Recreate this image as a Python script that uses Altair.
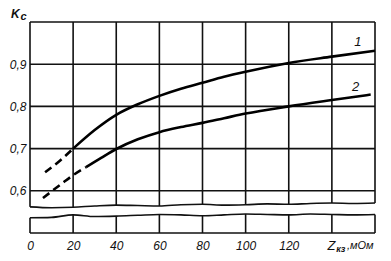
import altair as alt
import pandas as pd

# ---- data ----
x_tick_values = [0, 20, 40, 60, 80, 100, 120]
grid_x = [0, 20, 40, 60, 80, 100, 120, 140, 160]
grid_y = [0.5, 0.6, 0.7, 0.8, 0.9, 1.0]
y_tick_values = [0.6, 0.7, 0.8, 0.9]

c1_dash_x = [7, 14, 20]
c1_dash_y = [0.644, 0.672, 0.700]
c1_x = [20, 30, 40, 50, 60, 70, 80, 90, 100, 120, 140, 160]
c1_y = [0.700, 0.744, 0.780, 0.805, 0.825, 0.842, 0.856, 0.870, 0.882, 0.903, 0.918, 0.932]

c2_dash_x = [6, 15, 20, 26]
c2_dash_y = [0.583, 0.618, 0.637, 0.656]
c2_x = [26, 33, 40, 50, 60, 70, 80, 90, 100, 120, 140, 158]
c2_y = [0.656, 0.678, 0.699, 0.722, 0.739, 0.751, 0.761, 0.772, 0.783, 0.800, 0.815, 0.828]

# axis-break outline (wavy lines)
brk_x = [0, 10, 20, 30, 40, 50, 60, 70, 80, 90, 100, 110, 120, 130, 140, 150, 160]
brk_upper = [0.562, 0.560, 0.561, 0.564, 0.566, 0.565, 0.564, 0.567, 0.568,
             0.566, 0.567, 0.569, 0.568, 0.570, 0.571, 0.570, 0.571]
brk_lower = [0.536, 0.537, 0.543, 0.539, 0.540, 0.542, 0.544, 0.543, 0.541,
             0.543, 0.545, 0.544, 0.543, 0.545, 0.544, 0.543, 0.544]

# ---- tables ----
y_lo, y_hi = 0.5, 1.0
x_lo, x_hi = 0, 160
vgrid = pd.DataFrame({"x": grid_x, "y0": y_lo, "y1": y_hi})
hgrid = pd.DataFrame({"y": grid_y, "x0": x_lo, "x1": x_hi})

curves = pd.concat([
    pd.DataFrame({"x": c1_dash_x, "y": c1_dash_y, "s": "1d"}),
    pd.DataFrame({"x": c1_x, "y": c1_y, "s": "1"}),
    pd.DataFrame({"x": c2_dash_x, "y": c2_dash_y, "s": "2d"}),
    pd.DataFrame({"x": c2_x, "y": c2_y, "s": "2"}),
])

brk_area_x = list(brk_x)
brk_area_x[0] = brk_x[0] - 1.5
brk_area_x[-1] = brk_x[-1] + 1.5
brk_area = pd.DataFrame({"x": brk_area_x, "lo": brk_lower, "hi": brk_upper})
brk_lines = pd.concat([
    pd.DataFrame({"x": brk_x, "y": brk_upper, "k": "u"}),
    pd.DataFrame({"x": brk_x, "y": brk_lower, "k": "l"}),
])

FONT = "Liberation Sans"
xs = alt.Scale(domain=[x_lo, x_hi], nice=False, zero=False)
ys = alt.Scale(domain=[y_lo, y_hi], nice=False, zero=False)
INK = "#111111"

x_axis = alt.Axis(values=x_tick_values, domain=False, ticks=False, grid=False,
                  title=None, labelFont=FONT, labelFontStyle="italic",
                  labelFontSize=12, labelColor=INK, labelPadding=7,
                  labelFlush=False)
y_axis = alt.Axis(values=y_tick_values, domain=False, ticks=False, grid=False,
                  title=None, labelFont=FONT, labelFontStyle="italic",
                  labelFontSize=12, labelColor=INK, labelPadding=4,
                  format=".1f", labelExpr="replace(datum.label, '.', ',')")


def X(field):
    return alt.X(field, scale=xs, axis=x_axis)


def Y(field):
    return alt.Y(field, scale=ys, axis=y_axis)


vrules = alt.Chart(vgrid).mark_rule(color=INK, strokeWidth=1.6).encode(
    x=X("x:Q"), y=Y("y0:Q"), y2="y1:Q",
)
hrules = alt.Chart(hgrid).mark_rule(color=INK, strokeWidth=1.6).encode(
    y=Y("y:Q"), x=X("x0:Q"), x2="x1:Q",
)

gap = alt.Chart(brk_area).mark_area(color="white", opacity=1, interpolate="monotone").encode(
    x=X("x:Q"), y=Y("lo:Q"), y2="hi:Q",
)
gap_lines = alt.Chart(brk_lines).mark_line(color=INK, strokeWidth=1.6, interpolate="monotone").encode(
    x=X("x:Q"), y=Y("y:Q"), detail="k:N",
)

solid = alt.Chart(curves).transform_filter(
    "datum.s == '1' || datum.s == '2'"
).mark_line(color="black", strokeWidth=2.6, interpolate="monotone").encode(
    x=X("x:Q"), y=Y("y:Q"), detail="s:N",
)
dashed = alt.Chart(curves).transform_filter(
    "datum.s == '1d' || datum.s == '2d'"
).mark_line(color="black", strokeWidth=2.6, strokeDash=[8, 5], interpolate="monotone").encode(
    x=X("x:Q"), y=Y("y:Q"), detail="s:N",
)

labels = pd.DataFrame({
    "x": [152.0, 151.0, -6.8, -3.0, 138.0, 142.0, 147.0],
    "y": [0.952, 0.846, 1.019, 1.012, 0.469, 0.461, 0.469],
    "t": ["1", "2", "K", "с", "Z", "кз", ",мОм"],
})


def txt(row_filter, size, align, weight="normal"):
    return alt.Chart(labels).transform_filter(row_filter).mark_text(
        font=FONT, fontStyle="italic", fontSize=size, align=align,
        baseline="middle", color=INK, fontWeight=weight,
    ).encode(
        x=X("x:Q"), y=Y("y:Q"), text="t:N",
    )


t_curves = txt("datum.t == '1' || datum.t == '2'", 13, "center")
t_K = txt("datum.t == 'K'", 12, "center", "bold")
t_c = txt("datum.t == 'с'", 11, "center", "bold")
t_Z = txt("datum.t == 'Z'", 13, "left")
t_kz = txt("datum.t == 'кз'", 9, "left", "bold")
t_unit = txt("datum.t == ',мОм'", 11, "left")

chart = alt.layer(
    vrules, hrules, gap, gap_lines, solid, dashed,
    t_curves, t_K, t_c, t_Z, t_kz, t_unit,
).properties(
    width=345, height=211,
    autosize=alt.AutoSizeParams(type="none"),
    padding={"left": 30, "top": 22, "right": 16, "bottom": 28},
    background="white",
).configure_view(stroke=None)

chart.save("out.html", embed_options={"renderer": "svg", "actions": False})
